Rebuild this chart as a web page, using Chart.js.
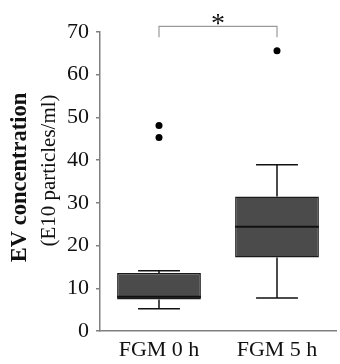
<!DOCTYPE html>
<html>
<head>
<meta charset="utf-8">
<script src="https://cdn.jsdelivr.net/npm/chart.js@4"></script>
<style>
html,body{margin:0;padding:0;background:#fff;}
#wrap{width:340px;height:364px;}
</style>
</head>
<body>
<div id="wrap"><canvas id="c" width="340" height="364"></canvas></div>
<script>
const categories = ['FGM 0 h', 'FGM 5 h'];
const whiskerLow = [5.2, 7.7];
const q1 = [7.4, 17.2];
const median = [8.0, 24.4];
const q3 = [13.6, 31.5];
const whiskerHigh = [14.1, 38.9];
const outliers = [[48.1, 45.3], [65.6]];
const yMin = 0, yMax = 70, yStep = 10;
const sigBracket = { from: 0, to: 1, level: 71.3, drop: 68.8, label: '*' };
const yTitleBold = 'EV concentration';
const yTitleNormal = '(E10 particles/ml)';

const SERIF = '"Liberation Serif", "Times New Roman", serif';
const AXIS = '#808080';

const outlierPoints = [];
outliers.forEach((arr, i) => arr.forEach(v => outlierPoints.push({ x: categories[i], y: v })));

const boxPlugin = {
  id: 'boxExtras',
  afterDatasetsDraw(chart) {
    const ctx = chart.ctx;
    const xs = chart.scales.x, ys = chart.scales.y;
    const meta = chart.getDatasetMeta(0);
    ctx.save();
    categories.forEach((c, i) => {
      const bar = meta.data[i];
      const cx = xs.getPixelForValue(i);
      const half = bar.width / 2;
      const capHalf = half / 2;
      ctx.strokeStyle = '#111';
      ctx.lineWidth = 1.5;
      const yl = ys.getPixelForValue(whiskerLow[i]);
      const yq1 = ys.getPixelForValue(q1[i]);
      const yq3 = ys.getPixelForValue(q3[i]);
      const yh = ys.getPixelForValue(whiskerHigh[i]);
      ctx.beginPath();
      ctx.moveTo(cx, yq1); ctx.lineTo(cx, yl);
      ctx.moveTo(cx - capHalf, yl); ctx.lineTo(cx + capHalf, yl);
      ctx.moveTo(cx, yq3); ctx.lineTo(cx, yh);
      ctx.moveTo(cx - capHalf, yh); ctx.lineTo(cx + capHalf, yh);
      ctx.stroke();
      const ym = ys.getPixelForValue(median[i]);
      ctx.lineWidth = 2;
      ctx.beginPath();
      ctx.moveTo(cx - half, ym); ctx.lineTo(cx + half, ym);
      ctx.stroke();
    });
    ctx.restore();
  },
  afterDraw(chart) {
    const ctx = chart.ctx;
    const xs = chart.scales.x, ys = chart.scales.y;
    const ca = chart.chartArea;
    ctx.save();
    const x1 = xs.getPixelForValue(sigBracket.from);
    const x2 = xs.getPixelForValue(sigBracket.to);
    const yb = ys.getPixelForValue(sigBracket.level);
    const yd = ys.getPixelForValue(sigBracket.drop);
    ctx.strokeStyle = '#9a9a9a';
    ctx.lineWidth = 1.2;
    ctx.beginPath();
    ctx.moveTo(x1, yd); ctx.lineTo(x1, yb); ctx.lineTo(x2, yb); ctx.lineTo(x2, yd);
    ctx.stroke();
    ctx.fillStyle = '#111';
    ctx.font = '28px ' + SERIF;
    ctx.textAlign = 'center';
    ctx.textBaseline = 'alphabetic';
    ctx.fillText(sigBracket.label, (x1 + x2) / 2, yb + 6);
    const cy = (ca.top + ca.bottom) / 2;
    ctx.translate(0, cy);
    ctx.rotate(-Math.PI / 2);
    ctx.textBaseline = 'middle';
    ctx.fillStyle = '#111';
    ctx.font = 'bold 22.5px ' + SERIF;
    ctx.fillText(yTitleBold, 4, 20);
    ctx.font = '21px ' + SERIF;
    ctx.fillText(yTitleNormal, 11, 49);
    ctx.restore();
  }
};

new Chart(document.getElementById('c'), {
  type: 'bar',
  data: {
    labels: categories,
    datasets: [
      {
        type: 'bar',
        data: categories.map((c, i) => [q1[i], q3[i]]),
        backgroundColor: '#4b4b4b',
        borderColor: '#1a1a1a',
        borderWidth: 1.5,
        borderSkipped: false,
        barPercentage: 0.71,
        categoryPercentage: 1
      },
      {
        type: 'line',
        data: outlierPoints,
        showLine: false,
        pointRadius: 3.5,
        pointBackgroundColor: '#000',
        pointBorderColor: '#000',
        pointBorderWidth: 0
      }
    ]
  },
  plugins: [boxPlugin],
  options: {
    responsive: false,
    animation: false,
    layout: { padding: { top: 32, right: 0, left: 0, bottom: 0 } },
    plugins: { legend: { display: false }, tooltip: { enabled: false } },
    scales: {
      x: {
        type: 'category',
        grid: { display: false, drawTicks: false },
        border: { display: true, color: AXIS, width: 1.5 },
        ticks: { color: '#111', font: { family: SERIF, size: 22 }, padding: 6 },
        afterFit(s) { s.height = 33; }
      },
      y: {
        min: yMin, max: yMax,
        grid: { display: true, drawOnChartArea: false, drawTicks: true, tickLength: 4, color: AXIS, lineWidth: 1.5 },
        border: { display: true, color: AXIS, width: 1.5 },
        ticks: { stepSize: yStep, color: '#111', font: { family: SERIF, size: 22 }, padding: 7 },
        afterFit(s) { s.width = 100; }
      }
    }
  }
});
</script>
</body>
</html>
